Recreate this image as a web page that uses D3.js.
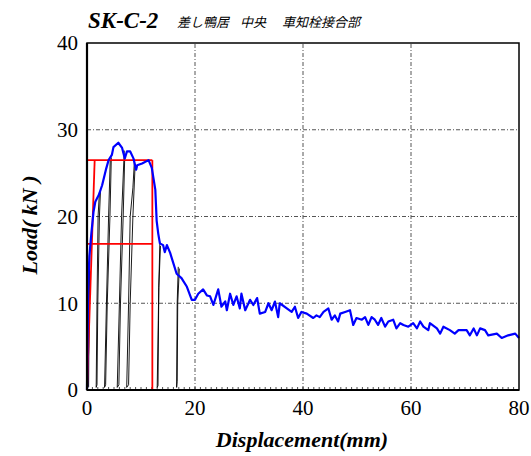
<!DOCTYPE html>
<html><head><meta charset="utf-8">
<script src="https://cdn.jsdelivr.net/npm/d3@7/dist/d3.min.js"></script>
<style>body{margin:0;background:#fff}svg{display:block}</style>
</head><body><svg id="c" width="531" height="456"></svg>
<script>
// ---- data ----
const xTicks = [0, 20, 40, 60, 80];
const yTicks = [0, 10, 20, 30, 40];
const titleMain = "SK-C-2";
const titleSubParts = ["差し鴨居", "中央", "車知栓接合部"];
const xLabel = "Displacement(mm)";
const yLabel = "Load( kN )";

// blue envelope curve [displacement, load]
const envelope = [
 [0,0],[0.1,6],[0.2,11],[0.35,14],[0.45,15.5],[0.8,18],[1.2,20.5],[1.54,21.7],[2.2,22.5],[2.8,23.6],[3.5,25.4],
 [4.0,26.5],[4.6,27.1],[4.9,28.0],[5.8,28.5],[6.5,27.9],[7.0,26.7],[7.4,27.5],[8.0,27.5],[8.6,26.7],
 [9.1,25.4],[9.3,25.9],[10.2,26.1],[11.4,26.5],[12.0,25.6],[12.65,23.1],[12.9,19.5],[13.2,18.0],
 [13.5,16.9],[14.1,16.7],[14.4,15.9],[14.8,16.7],[15.4,15.8],[16.0,14.6],[16.6,13.4],[17.5,12.9],
 [18.5,11.9],[19.4,10.4],[20.0,10.4],[20.6,11.1],[21.5,11.6],[22.2,10.9],[22.8,10.8],[23.4,9.8],
 [24.3,11.6],[24.9,9.6],[25.6,10.2],[25.9,9.2],[26.5,11.1],[27.1,9.8],[27.7,10.8],[28.3,9.4],
 [28.6,11.1],[29.3,9.2],[30.2,10.4],[30.8,9.8],[31.5,10.6],[32.0,8.8],[33.0,9.0],[33.6,10.0],
 [34.2,9.2],[34.8,10.2],[35.4,8.4],[35.7,10.0],[37.0,9.4],[37.9,9.0],[38.5,9.6],[39.1,8.3],
 [39.7,9.0],[40.7,8.8],[41.9,8.3],[42.5,8.6],[43.1,8.4],[43.8,9.0],[44.7,9.4],[45.3,8.1],
 [45.9,8.6],[46.5,7.9],[46.9,8.8],[47.8,9.0],[48.7,9.2],[49.3,7.5],[49.9,8.3],[50.9,8.1],
 [51.5,8.4],[52.1,7.5],[52.7,8.4],[53.3,8.1],[53.9,7.5],[54.5,8.3],[55.2,7.3],[55.8,7.9],
 [56.7,8.1],[57.3,7.1],[58.0,7.7],[58.6,7.5],[59.5,7.3],[60.4,7.7],[61.1,7.1],[61.7,7.9],
 [62.3,7.3],[63.2,6.9],[63.5,7.7],[64.8,7.1],[65.4,6.5],[66.0,7.3],[67.2,6.9],[68.1,6.5],
 [68.8,6.9],[70.3,6.9],[70.9,6.3],[71.6,7.1],[72.2,6.3],[72.8,7.1],[73.7,6.9],[74.3,6.3],
 [75.9,6.5],[76.8,6.0],[78.0,6.3],[79.3,6.5],[80.0,6.0]
];

// black unload/reload cycles
const cycles = [
 [[0.45,15.5],[0.3,5],[0.2,0.3],[0.3,0.4],[0.4,10],[0.5,16]],
 [[2.3,22.8],[2.05,20],[1.85,10],[1.7,0.3],[1.85,0.6],[2.0,10],[2.3,20],[2.5,23]],
 [[4.3,26.5],[4.0,20],[3.6,10],[3.25,0.3],[3.45,0.6],[3.75,10],[4.25,20],[4.5,26.8]],
 [[6.9,27.6],[6.4,20],[6.0,10],[5.6,0.3],[5.9,0.6],[6.2,10],[6.7,20],[7.0,27.2]],
 [[8.8,26.6],[8.5,23.3],[8.0,20],[7.7,10],[7.35,0.3],[7.7,0.6],[8.0,10],[8.5,20],[8.9,25.8]],
 [[13.5,17.1],[13.3,12],[13.2,8],[13.0,0.3],[13.15,0.5],[13.3,11.8],[13.6,16.6]],
 [[16.9,14.2],[16.7,10],[16.6,0.3],[16.7,1],[16.8,10],[17.1,14.0]]
];

// red bilinear idealisation
const redLines = [
 [[0,0],[1.42,26.5]],
 [[0,26.5],[12.1,26.5]],
 [[12.1,26.5],[12.1,0]],
 [[0,16.85],[12.1,16.85]]
];

// ---- drawing ----
const svg = d3.select("#c");
const x = d3.scaleLinear().domain([0,80]).range([87,519]);
const y = d3.scaleLinear().domain([0,40]).range([390,43]);
const serif = "'Liberation Serif','Times New Roman',serif";

// grid
const grid = svg.append("g");
grid.selectAll(".gx").data(xTicks.filter(t=>t>0&&t<80)).join("line")
  .attr("x1",d=>x(d)).attr("x2",d=>x(d)).attr("y1",y(0)).attr("y2",y(40))
  .attr("stroke","#555").attr("stroke-width",1).attr("stroke-dasharray","4,2,1,2");
grid.selectAll(".gy").data(yTicks.filter(t=>t>0&&t<40)).join("line")
  .attr("y1",d=>y(d)).attr("y2",d=>y(d)).attr("x1",x(0)).attr("x2",x(80))
  .attr("stroke","#555").attr("stroke-width",1).attr("stroke-dasharray","4,2,1,2");

// minor ticks on bottom axis
svg.append("g").selectAll("line").data(d3.range(1,80,1)).join("line")
  .attr("x1",d=>x(d)).attr("x2",d=>x(d)).attr("y1",y(0)).attr("y2",y(0)-3)
  .attr("stroke","#000").attr("stroke-width",0.7);

const line = d3.line().x(d=>x(d[0])).y(d=>y(d[1]));

// black cycles
svg.append("g").selectAll("path").data(cycles).join("path")
  .attr("d",line).attr("fill","none").attr("stroke","#000").attr("stroke-width",0.9);

// red lines
svg.append("g").selectAll("path").data(redLines).join("path")
  .attr("d",line).attr("fill","none").attr("stroke","#ff0000").attr("stroke-width",1.8);

// blue envelope
svg.append("path").datum(envelope).attr("d",line).attr("fill","none")
  .attr("stroke","#0000ff").attr("stroke-width",2.2).attr("stroke-linejoin","round");

// frame
svg.append("rect").attr("x",x(0)).attr("y",y(40)).attr("width",x(80)-x(0)).attr("height",y(0)-y(40))
  .attr("fill","none").attr("stroke","#000").attr("stroke-width",1.5);
svg.append("line").attr("x1",x(0)).attr("x2",x(0)).attr("y1",y(0)).attr("y2",y(40))
  .attr("stroke","#000").attr("stroke-width",2.2);
svg.append("line").attr("x1",x(0)).attr("x2",x(80)).attr("y1",y(0)).attr("y2",y(0))
  .attr("stroke","#000").attr("stroke-width",1.8);

// tick labels
svg.append("g").selectAll("text").data(yTicks).join("text")
  .attr("x",78).attr("y",d=>y(d)).attr("dy","0.35em").attr("text-anchor","end")
  .attr("font-family",serif).attr("font-size",21).text(d=>d);
svg.append("g").selectAll("text").data(xTicks).join("text")
  .attr("x",d=>x(d)).attr("y",415).attr("text-anchor","middle")
  .attr("font-family",serif).attr("font-size",21).text(d=>d);

// axis titles
svg.append("text").attr("x",302).attr("y",447).attr("text-anchor","middle")
  .attr("font-family",serif).attr("font-size",22).attr("font-weight","bold").attr("font-style","italic")
  .text(xLabel);
svg.append("text").attr("transform","translate(37,225) rotate(-90)").attr("text-anchor","middle")
  .attr("font-family",serif).attr("font-size",22).attr("font-weight","bold").attr("font-style","italic")
  .attr("xml:space","preserve").text(yLabel);

// title
svg.append("text").attr("x",88).attr("y",28)
  .attr("font-family",serif).attr("font-size",23).attr("font-weight","bold").attr("font-style","italic")
  .text(titleMain);
const subX = [177, 240, 282];
svg.append("g").selectAll("text").data(titleSubParts).join("text")
  .attr("x",(d,i)=>subX[i]).attr("y",27)
  .attr("font-family","'Noto Sans CJK JP',sans-serif").attr("font-size",13).attr("font-style","italic")
  .text(d=>d);
</script></body></html>
